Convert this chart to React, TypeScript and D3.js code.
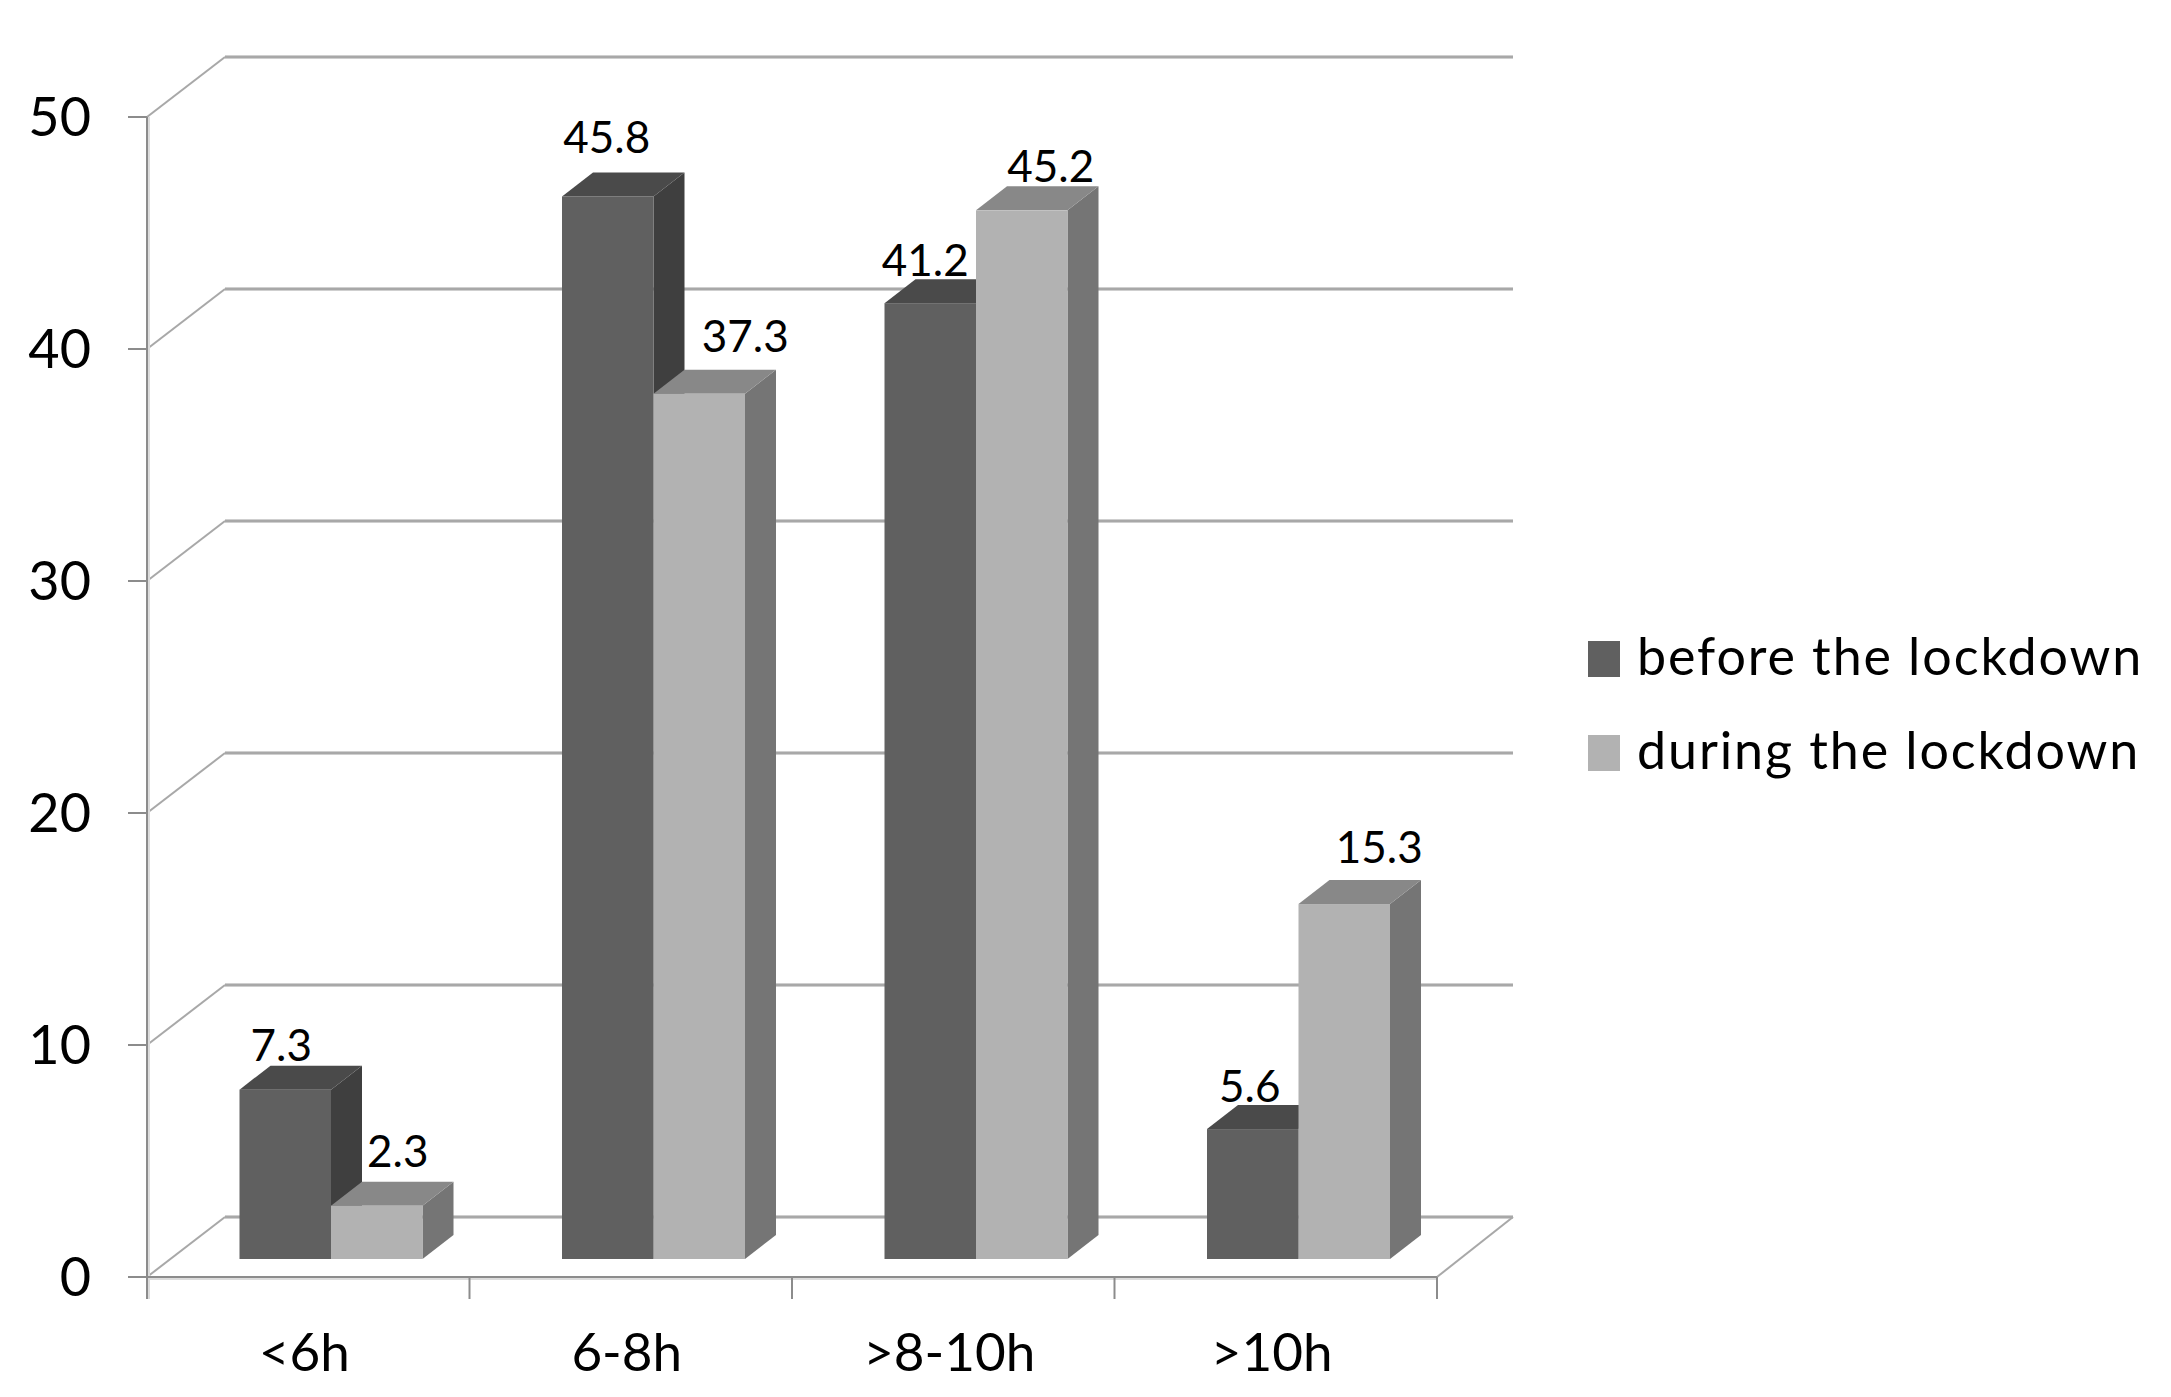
import React from "react";
import * as d3 from "d3";

const categories = ["<6h", "6-8h", ">8-10h", ">10h"];
const seriesNames = ["before the lockdown", "during the lockdown"];
const before = [7.3, 45.8, 41.2, 5.6];
const during = [2.3, 37.3, 45.2, 15.3];
const yTicks = [0, 10, 20, 30, 40, 50];

const W = 2171, H = 1397;
const FONT = "Lato, 'Open Sans', sans-serif";
const AX = "#8c8c8c", GRID = "#a8a8a8";
const DEPTH_X = 78, DEPTH_Y = 60;
const BAR_W = 91.5, BAR_DX = 31, BAR_DY = 24, BAR_INSET = 92.5, FLOOR_LIFT = 18;
const palette = [
  { front: "#606060", top: "#4a4a4a", side: "#3f3f3f" },
  { front: "#b2b2b2", top: "#888888", side: "#757575" },
];
// label nudges, per series then category: [dx from bar centre, dy from bar top]
const labelNudge = [
  [[-4, -29], [-1, -43], [-5, -27], [-3, -27]],
  [[21, -39], [46, -42], [29, -28], [35, -41]],
];

const x = d3.scaleBand<string>().domain(categories).range([147, 1437]);
const y = d3.scaleLinear().domain([0, 50]).range([1277, 117]);
const h = (v: number) => y(0) - y(v);

function Bar({ x0, v, c }: { x0: number; v: number; c: (typeof palette)[number] }) {
  const base = y(0) - FLOOR_LIFT;
  const top = base - h(v);
  const x1 = x0 + BAR_W;
  const pts = (a: number[][]) => a.map((p) => p.join(",")).join(" ");
  return (
    <g>
      <polygon fill={c.side} points={pts([[x1, top], [x1 + BAR_DX, top - BAR_DY], [x1 + BAR_DX, base - BAR_DY], [x1, base]])} />
      <polygon fill={c.top} points={pts([[x0, top], [x0 + BAR_DX, top - BAR_DY], [x1 + BAR_DX, top - BAR_DY], [x1, top]])} />
      <rect x={x0} y={top} width={BAR_W} height={h(v)} fill={c.front} />
    </g>
  );
}

export default function App() {
  const series = [before, during];
  const gridX0 = 147 + DEPTH_X, gridX1 = 1437 + DEPTH_X - 2;
  return (
    <svg width={W} height={H} viewBox={`0 0 ${W} ${H}`} style={{ position: "absolute", left: 0, top: 0, background: "#fff" }}>
      {yTicks.map((t) => (
        <g key={t}>
          <line x1={gridX0} x2={gridX1} y1={y(t) - DEPTH_Y} y2={y(t) - DEPTH_Y} stroke="#cfcfcf" strokeWidth={4} />
          <line x1={gridX0} x2={gridX1} y1={y(t) - DEPTH_Y} y2={y(t) - DEPTH_Y} stroke={GRID} strokeWidth={2} />
          <line x1={147} x2={gridX0} y1={y(t)} y2={y(t) - DEPTH_Y} stroke={GRID} strokeWidth={2} />
          <line x1={128} x2={147} y1={y(t)} y2={y(t)} stroke={AX} strokeWidth={2} />
          <text x={91} y={y(t) + 19} textAnchor="end" fontFamily={FONT} fontSize={54} fill="#000">{t}</text>
        </g>
      ))}
      <line x1={1437} x2={gridX1} y1={y(0)} y2={y(0) - DEPTH_Y} stroke={GRID} strokeWidth={2} />
      <line x1={149} x2={149} y1={y(50)} y2={1299} stroke="#dcdcdc" strokeWidth={2} />
      <line x1={147} x2={147} y1={y(50)} y2={1299} stroke={AX} strokeWidth={2} />
      <line x1={147} x2={1437} y1={y(0) + 2} y2={y(0) + 2} stroke="#dcdcdc" strokeWidth={2} />
      <line x1={147} x2={1437} y1={y(0)} y2={y(0)} stroke={AX} strokeWidth={2} />
      {[...categories.map((c) => x(c)!), 1437].map((px, i) => (
        <line key={i} x1={px} x2={px} y1={y(0)} y2={1299} stroke={AX} strokeWidth={2} />
      ))}
      {categories.map((c, i) => (
        <g key={c}>
          {series.map((s, j) => (
            <Bar key={j} x0={x(c)! + BAR_INSET + j * BAR_W} v={s[i]} c={palette[j]} />
          ))}
        </g>
      ))}
      {categories.map((c, i) =>
        series.map((s, j) => (
          <text key={c + j} x={x(c)! + BAR_INSET + j * BAR_W + BAR_W / 2 + labelNudge[j][i][0]}
            y={y(0) - FLOOR_LIFT - h(s[i]) + labelNudge[j][i][1]}
            textAnchor="middle" fontFamily={FONT} fontSize={44} fill="#000">
            {s[i].toFixed(1)}
          </text>
        ))
      )}
      {categories.map((c) => (
        <text key={c} x={x(c)! + x.bandwidth() / 2 - 4} y={1371} textAnchor="middle" fontFamily={FONT} fontSize={53} fill="#000">{c}</text>
      ))}
      {seriesNames.map((n, j) => (
        <g key={n}>
          <rect x={1588} y={641 + j * 94} width={32} height={36} fill={palette[j].front} />
          <text x={1637} y={675 + j * 94} fontFamily={FONT} fontSize={52} letterSpacing={1.9} fill="#000">{n}</text>
        </g>
      ))}
    </svg>
  );
}
